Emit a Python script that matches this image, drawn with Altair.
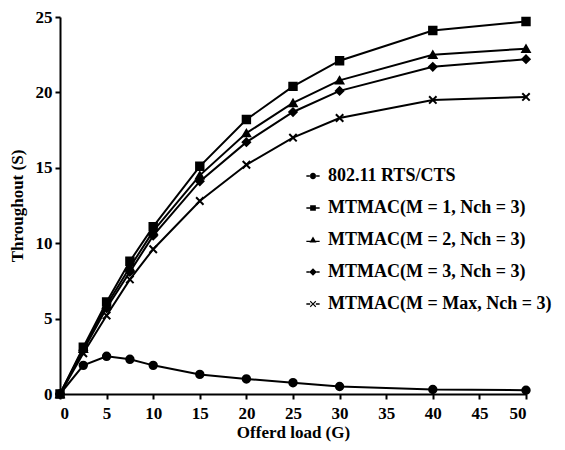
import altair as alt
import pandas as pd

loads = [0, 2.5, 5, 7.5, 10, 15, 20, 25, 30, 40, 50]
series_names = [
    "802.11 RTS/CTS",
    "MTMAC(M = 1, Nch = 3)",
    "MTMAC(M = 2, Nch = 3)",
    "MTMAC(M = 3, Nch = 3)",
    "MTMAC(M = Max, Nch = 3)",
]
rts_cts = [0, 1.9, 2.5, 2.3, 1.9, 1.3, 1.0, 0.75, 0.5, 0.3, 0.25]
mtmac_m1 = [0, 3.1, 6.1, 8.8, 11.1, 15.1, 18.2, 20.4, 22.1, 24.1, 24.7]
mtmac_m2 = [0, 3.0, 5.9, 8.4, 10.8, 14.5, 17.3, 19.3, 20.8, 22.5, 22.9]
mtmac_m3 = [0, 2.9, 5.7, 8.1, 10.5, 14.1, 16.7, 18.7, 20.1, 21.7, 22.2]
mtmac_max = [0, 2.7, 5.2, 7.6, 9.6, 12.8, 15.2, 17.0, 18.3, 19.5, 19.7]
x_ticks = [0, 5, 10, 15, 20, 25, 30, 35, 40, 45, 50]
y_ticks = [0, 5, 10, 15, 20, 25]

rows = []
for name, vals in zip(series_names, [rts_cts, mtmac_m1, mtmac_m2, mtmac_m3, mtmac_max]):
    for x, y in zip(loads, vals):
        rows.append({"series": name, "load": x, "throughput": y})
df = pd.DataFrame(rows)

FONT = "Liberation Serif"
X_PATH = "M-1,-1L1,1M-1,1L1,-1"
plot_shapes = ["circle", "square", "triangle-up", "diamond", X_PATH]

def seg(y, inner):
    return (f"M-2.1,{y - 0.22}H{-inner}V{y + 0.22}H-2.1Z"
            f"M{inner},{y - 0.22}H2.1V{y + 0.22}H{inner}Z")

legend_shapes = [
    seg(0, 0.9) + "M-1,0A1,1 0 1,0 1,0A1,1 0 1,0 -1,0Z",
    seg(0, 0.85) + "M-0.9,-0.9H0.9V0.9H-0.9Z",
    seg(0.45, 0.75) + "M-1.1,0.8L0,-1.1L1.1,0.8Z",
    seg(0, 1.1) + "M0,-1.2L1.2,0L0,1.2L-1.2,0Z",
    seg(0, 0.9) + "M-1,-0.75L-0.25,0L-1,0.75L-0.75,1L0,0.25L0.75,1L1,0.75L0.25,0"
    "L1,-0.75L0.75,-1L0,-0.25L-0.75,-1Z",
]

xenc = alt.X("load:Q", scale=alt.Scale(domain=[0, 50], nice=False),
             axis=alt.Axis(values=x_ticks, title="Offerd load (G)",
                           labelPadding=6, titlePadding=3))
yenc = alt.Y("throughput:Q", scale=alt.Scale(domain=[0, 25], nice=False),
             axis=alt.Axis(values=y_ticks, title="Throughout (S)",
                           labelPadding=3, titlePadding=9))

lines = alt.Chart(df).mark_line(color="black", strokeWidth=2).encode(
    x=xenc, y=yenc, detail="series:N"
)
points = alt.Chart(df).mark_point(filled=True, color="black", stroke="black",
                                  strokeWidth=2, opacity=1, size=55).encode(
    x=xenc, y=yenc,
    shape=alt.Shape("series:N", scale=alt.Scale(domain=series_names, range=plot_shapes),
                    legend=None),
)
legend_layer = alt.Chart(df).transform_filter("false").mark_point(
    filled=True, color="black", opacity=1, size=40
).encode(
    x=xenc, y=yenc,
    shape=alt.Shape("series:N", scale=alt.Scale(domain=series_names, range=legend_shapes),
                    legend=alt.Legend(title=None, orient="none", legendX=244, legendY=150,
                                      labelFont=FONT, labelFontSize=18, labelFontWeight="bold",
                                      labelColor="black", rowPadding=14, symbolSize=40,
                                      symbolFillColor="black", labelOffset=6,
                                      labelLimit=0, symbolOpacity=1)),
)

chart = alt.layer(lines, points, legend_layer).resolve_scale(shape="independent").properties(
    width=549, height=434,
    autosize=alt.AutoSizeParams(type="fit", contains="padding"),
    padding={"left": 0, "top": 0, "right": 23, "bottom": 2},
).configure_view(stroke=None).configure_axis(
    domainColor="black", domainWidth=2, tickColor="black", tickWidth=2, tickSize=5,
    grid=False, labelFont=FONT, labelFontSize=17, labelFontWeight="bold", labelColor="black",
    titleFont=FONT, titleFontSize=17, titleFontWeight="bold", titleColor="black",
)

chart.save("out.html", embed_options={"renderer": "svg", "actions": False})
